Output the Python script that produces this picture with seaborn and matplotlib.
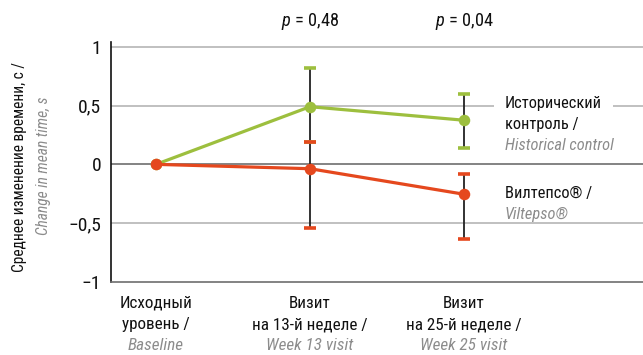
import matplotlib
matplotlib.use("Agg")
import matplotlib.pyplot as plt
import seaborn as sns
import pandas as pd

# ---- data ----
visits_ru1 = ["Исходный", "Визит", "Визит"]
visits_ru2 = ["уровень /", "на 13-й неделе /", "на 25-й неделе /"]
visits_en = ["Baseline", "Week 13 visit", "Week 25 visit"]
x_pos = [0, 1, 2]

hist_mean = [0.0, 0.49, 0.375]
hist_low = [None, 0.19, 0.14]
hist_high = [None, 0.82, 0.60]

vil_mean = [0.0, -0.037, -0.254]
vil_low = [None, -0.54, -0.636]
vil_high = [None, 0.19, -0.085]

p_values = ["0,48", "0,04"]
y_ticks = [-1, -0.5, 0, 0.5, 1]
y_ticklabels = ["\u22121", "\u22120,5", "0", "0,5", "1"]

GREEN = "#9dbf3e"
ORANGE = "#e5481e"
GRAY_TXT = "#8c8c8c"
BLACK = "#111111"

sns.set_style("white")
FONT = ["Roboto Condensed", "DejaVu Sans"]
plt.rcParams["font.family"] = FONT
plt.rcParams["mathtext.fontset"] = "custom"
plt.rcParams["mathtext.it"] = "Roboto Condensed:italic"
plt.rcParams["mathtext.rm"] = "Roboto Condensed"

FS_CAT = 12.3
FS_LEG = 11.8
FS_Y = 11.2
FS_P = 13.2

W, H = 643, 355
fig = plt.figure(figsize=(W / 100, H / 100), dpi=100)
ax = fig.add_axes([111 / W, 1 - 282 / H, 1 - 111 / W, (282 - 42) / H])

df = pd.DataFrame({
    "x": x_pos * 2,
    "y": hist_mean + vil_mean,
    "g": ["hist"] * 3 + ["vil"] * 3,
})

# grid lines
for t in [1, 0.5, -0.5]:
    ax.axhline(t, color="#b5b5b5", lw=1.2, zorder=0)
ax.axhline(0, color="#6e6e6e", lw=1.2, zorder=0)

def draw_err(low, high, color):
    for xi, lo, hi in zip(x_pos, low, high):
        if lo is None:
            continue
        ax.vlines(xi, lo, hi, color="#222222", lw=1.3, zorder=2)
        ax.plot([xi, xi], [lo, hi], ls="none", marker="_", ms=8, mew=2.6,
                color=color, zorder=3)

draw_err(hist_low, hist_high, GREEN)
sns.lineplot(data=df[df.g == "hist"], x="x", y="y", color=GREEN, lw=2.3,
             marker="o", markersize=8.3, markeredgewidth=0, ax=ax, zorder=4)
draw_err(vil_low, vil_high, ORANGE)
sns.lineplot(data=df[df.g == "vil"], x="x", y="y", color=ORANGE, lw=2.3,
             marker="o", markersize=8.3, markeredgewidth=0, ax=ax, zorder=5)

ax.set_xlim(-0.292, 3.162)
ax.set_ylim(-1, 1.04)
ax.set_yticks(y_ticks)
ax.set_yticklabels(y_ticklabels, fontsize=14)
ax.tick_params(axis="y", length=0, pad=7, labelcolor=BLACK)
ax.set_xticks(x_pos)
ax.set_xticklabels([])
ax.tick_params(axis="x", length=6, width=1, color="#222222", direction="out")
ax.set_xlabel("")
ax.set_ylabel("")
for s in ["top", "right"]:
    ax.spines[s].set_visible(False)
ax.spines["left"].set_color(BLACK)
ax.spines["left"].set_linewidth(1.2)
ax.spines["bottom"].set_color("#6e6e6e")
ax.spines["bottom"].set_linewidth(1.2)

# category labels (offsets in points: 1 px = 0.72 pt)
for xi, r1, r2, en in zip(x_pos, visits_ru1, visits_ru2, visits_en):
    for txt, off, kw in [(r1, -21, {}), (r2, -43, {}),
                         (en, -64, {"style": "italic", "color": GRAY_TXT})]:
        ax.annotate(txt, xy=(xi, 0), xycoords=("data", "axes fraction"),
                    xytext=(0, off * 0.72), textcoords="offset points",
                    ha="center", va="center", fontsize=FS_CAT,
                    color=kw.get("color", BLACK), style=kw.get("style", "normal"))

# p values
for xi, p in zip(x_pos[1:], p_values):
    ax.annotate(f"$p$ = {p}", xy=(xi, 1), xycoords=("data", "axes fraction"),
                xytext=(0, 14.4), textcoords="offset points", ha="center", va="center",
                fontsize=FS_P, color=BLACK)

# y label
fig.text(20 / W, 1 - 167 / H, "Среднее изменение времени, с /", rotation=90,
         ha="center", va="center", fontsize=FS_Y, color=BLACK)
fig.text(44 / W, 1 - 166 / H, "Change in mean time, s", rotation=90,
         ha="center", va="center", fontsize=FS_Y, style="italic", color=GRAY_TXT)

# series labels
lx = 505 / W
fig.text(lx, 1 - 103 / H, "Исторический", ha="left", va="center", fontsize=FS_LEG,
         color=BLACK, bbox=dict(facecolor="white", edgecolor="none", pad=8))
fig.text(lx, 1 - 124 / H, "контроль /", ha="left", va="center", fontsize=FS_LEG, color=BLACK)
fig.text(lx, 1 - 146 / H, "Historical control", ha="left", va="center", fontsize=FS_LEG,
         style="italic", color=GRAY_TXT)
fig.text(lx, 1 - 193 / H, "Вилтепсо® /", ha="left", va="center", fontsize=FS_LEG, color=BLACK)
fig.text(lx, 1 - 214 / H, "Viltepso®", ha="left", va="center", fontsize=FS_LEG,
         style="italic", color=GRAY_TXT)

fig.savefig("out.png", dpi=100)
